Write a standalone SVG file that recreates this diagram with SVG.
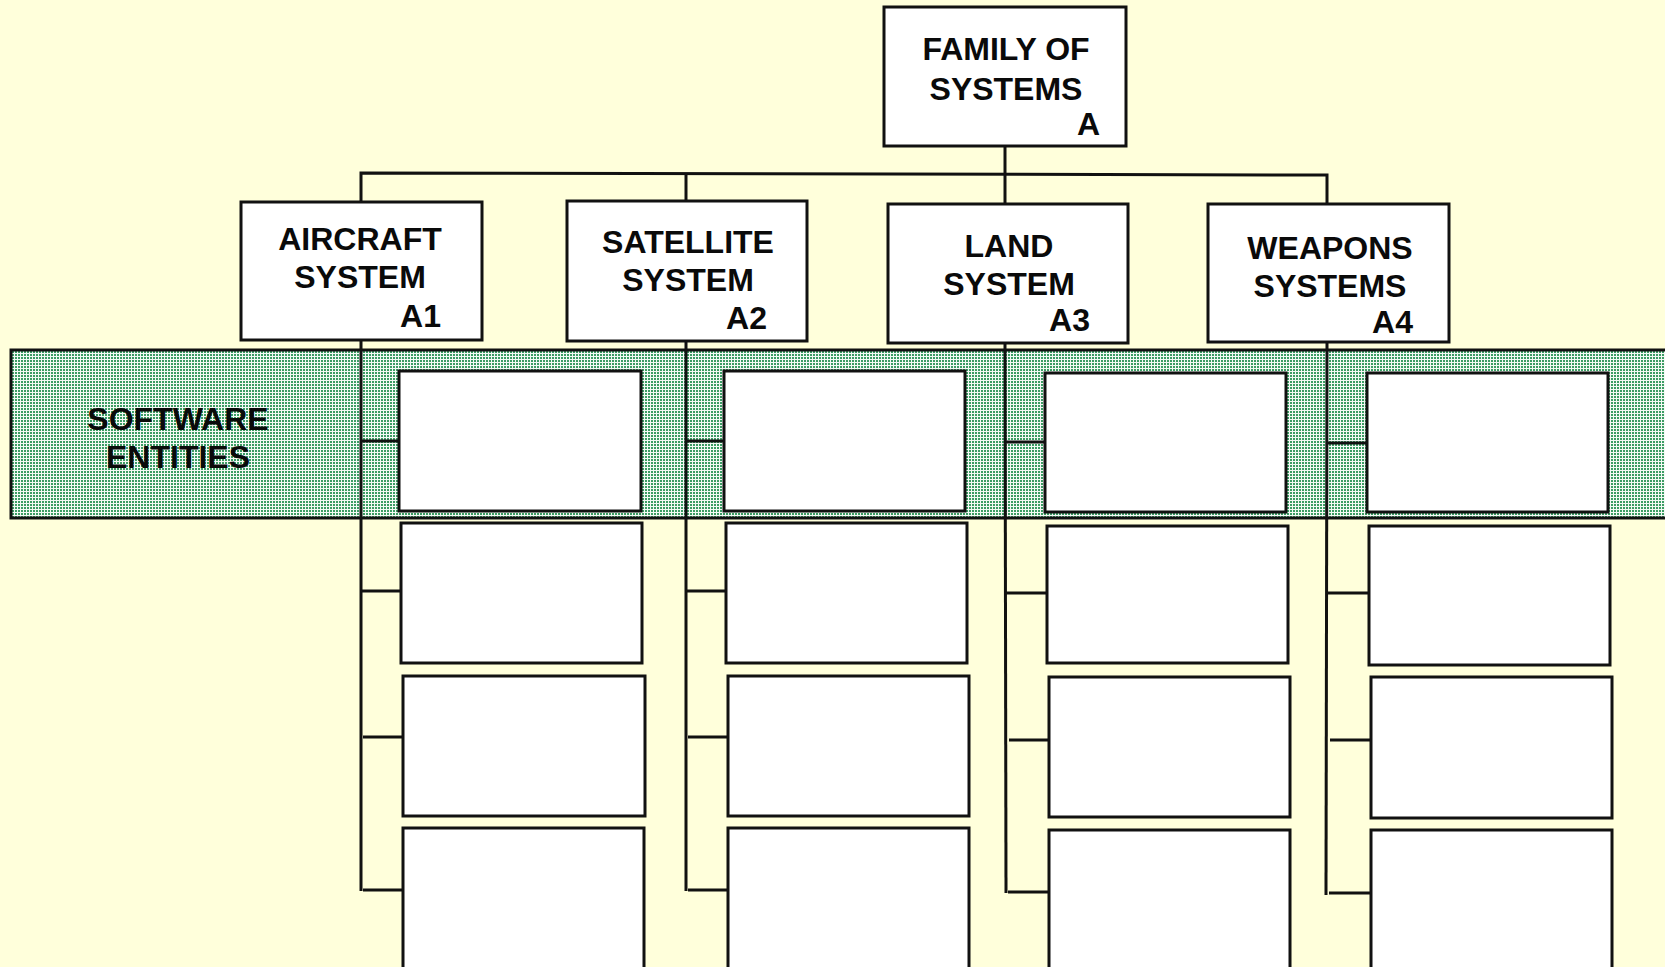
<svg xmlns="http://www.w3.org/2000/svg" width="1665" height="967" viewBox="0 0 1665 967">
<defs>
<pattern id="dots" x="0" y="0" width="3" height="3" patternUnits="userSpaceOnUse">
<rect width="3" height="3" fill="#f4faf5"/>
<rect width="2" height="2" fill="#3c9c64"/>
</pattern>
<style>
.box{fill:#ffffff;stroke:#111;stroke-width:3}
.ln{stroke:#111;stroke-width:3;fill:none}
.t{font-family:"Liberation Sans",Arial,sans-serif;font-weight:bold;font-size:32px;fill:#0a0a0a}
.c{text-anchor:middle}
.r{text-anchor:end}
</style>
</defs>
<rect width="1665" height="967" fill="#ffffdb"/>
<g id="band">
<rect x="11" y="350" width="1660" height="168" fill="url(#dots)" stroke="#111" stroke-width="3"/>
<text class="t c" x="178" y="430">SOFTWARE</text>
<text class="t c" x="178" y="468">ENTITIES</text>
</g>
<g id="connectors">
<line class="ln" x1="1005" y1="146" x2="1005" y2="174"/>
<polyline class="ln" points="361,202 361,173 1327,175 1327,204"/>
<line class="ln" x1="686" y1="173" x2="686" y2="202"/>
<line class="ln" x1="1005" y1="174" x2="1005" y2="204"/>
<line class="ln" x1="361" y1="340" x2="361" y2="891"/>
<line class="ln" x1="686" y1="340" x2="686" y2="891"/>
<line class="ln" x1="1005" y1="342" x2="1006" y2="893"/>
<line class="ln" x1="1327" y1="342" x2="1326" y2="895"/>
<line class="ln" x1="361" y1="441" x2="399" y2="441"/>
<line class="ln" x1="361" y1="591" x2="401" y2="591"/>
<line class="ln" x1="363" y1="737" x2="403" y2="737"/>
<line class="ln" x1="363" y1="890" x2="403" y2="890"/>
<line class="ln" x1="686" y1="441" x2="724" y2="441"/>
<line class="ln" x1="686" y1="591" x2="726" y2="591"/>
<line class="ln" x1="688" y1="737" x2="728" y2="737"/>
<line class="ln" x1="688" y1="890" x2="728" y2="890"/>
<line class="ln" x1="1005" y1="442" x2="1045" y2="442"/>
<line class="ln" x1="1004" y1="593" x2="1047" y2="593"/>
<line class="ln" x1="1009" y1="740" x2="1049" y2="740"/>
<line class="ln" x1="1008" y1="892" x2="1049" y2="892"/>
<line class="ln" x1="1327" y1="443" x2="1367" y2="443"/>
<line class="ln" x1="1327" y1="593" x2="1369" y2="593"/>
<line class="ln" x1="1330" y1="740" x2="1371" y2="740"/>
<line class="ln" x1="1329" y1="893" x2="1371" y2="893"/>
</g>
<g id="family">
<rect class="box" x="884" y="7" width="242" height="139"/>
<text class="t c" x="1006" y="60">FAMILY OF</text>
<text class="t c" x="1006" y="100">SYSTEMS</text>
<text class="t r" x="1100" y="135">A</text>
</g>
<g id="a1">
<rect class="box" x="241" y="202" width="241" height="138"/>
<text class="t c" x="360" y="250">AIRCRAFT</text>
<text class="t c" x="360" y="288">SYSTEM</text>
<text class="t r" x="441" y="327">A1</text>
</g>
<g id="a2">
<rect class="box" x="567" y="201" width="240" height="140"/>
<text class="t c" x="688" y="253">SATELLITE</text>
<text class="t c" x="688" y="291">SYSTEM</text>
<text class="t r" x="767" y="329">A2</text>
</g>
<g id="a3">
<rect class="box" x="888" y="204" width="240" height="139"/>
<text class="t c" x="1009" y="257">LAND</text>
<text class="t c" x="1009" y="295">SYSTEM</text>
<text class="t r" x="1090" y="331">A3</text>
</g>
<g id="a4">
<rect class="box" x="1208" y="204" width="241" height="138"/>
<text class="t c" x="1330" y="259">WEAPONS</text>
<text class="t c" x="1330" y="297">SYSTEMS</text>
<text class="t r" x="1413" y="333">A4</text>
</g>
<g id="a1-children">
<rect class="box" x="399" y="371" width="242" height="140"/>
<rect class="box" x="401" y="523" width="241" height="140"/>
<rect class="box" x="403" y="676" width="242" height="140"/>
<rect class="box" x="403" y="828" width="241" height="145"/>
</g>
<g id="a2-children">
<rect class="box" x="724" y="371" width="241" height="140"/>
<rect class="box" x="726" y="523" width="241" height="140"/>
<rect class="box" x="728" y="676" width="241" height="140"/>
<rect class="box" x="728" y="828" width="241" height="145"/>
</g>
<g id="a3-children">
<rect class="box" x="1045" y="373" width="241" height="139"/>
<rect class="box" x="1047" y="526" width="241" height="137"/>
<rect class="box" x="1049" y="677" width="241" height="140"/>
<rect class="box" x="1049" y="830" width="241" height="143"/>
</g>
<g id="a4-children">
<rect class="box" x="1367" y="373" width="241" height="139"/>
<rect class="box" x="1369" y="526" width="241" height="139"/>
<rect class="box" x="1371" y="677" width="241" height="141"/>
<rect class="box" x="1371" y="830" width="241" height="143"/>
</g>
</svg>
